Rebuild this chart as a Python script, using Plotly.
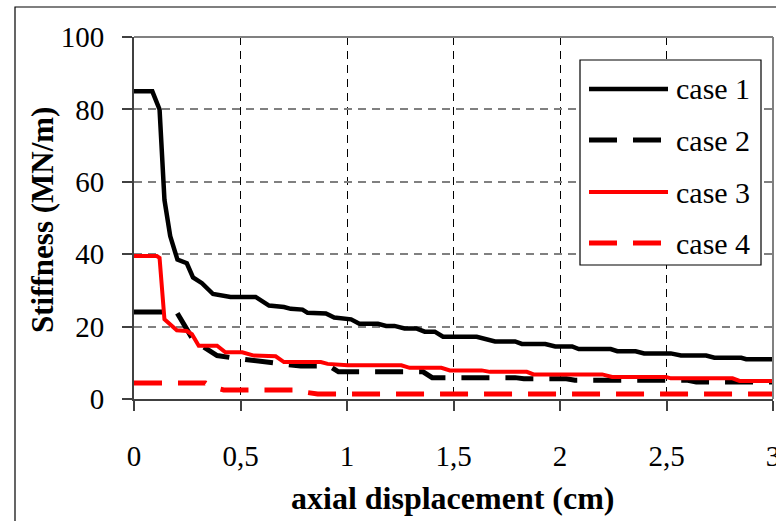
import plotly.graph_objects as go

# ---------------- data ----------------
case1_x = [0, 0.086, 0.12, 0.143, 0.17, 0.204, 0.248, 0.277, 0.319, 0.371, 0.453, 0.571,
           0.634, 0.704, 0.736, 0.791, 0.815, 0.901, 0.94, 1.019, 1.058, 1.145, 1.184,
           1.223, 1.27, 1.325, 1.365, 1.412, 1.451, 1.609, 1.695, 1.789, 1.821, 1.931,
           1.978, 2.057, 2.088, 2.238, 2.269, 2.355, 2.395, 2.52, 2.568, 2.686, 2.725,
           2.851, 2.874, 3.0]
case1_y = [85, 85, 80, 55, 45, 38.5, 37.5, 33.6, 32, 29, 28.2, 28.2,
           25.8, 25.4, 24.9, 24.7, 23.8, 23.6, 22.5, 22.0, 20.8, 20.8, 20.2,
           20.2, 19.5, 19.5, 18.6, 18.6, 17.2, 17.2, 15.9, 15.9, 15.2, 15.2,
           14.5, 14.5, 13.8, 13.8, 13.2, 13.2, 12.6, 12.6, 12.0, 12.0, 11.4,
           11.4, 11.0, 11.0]

case2_x = [0, 0.2, 0.28, 0.358, 0.39, 0.492, 0.571, 0.704, 0.783, 0.917, 0.96, 1.357,
           1.4, 1.789, 1.83, 2.03, 2.07, 2.6, 2.64, 3.0]
case2_y = [24, 24, 16.1, 13.4, 12.0, 11.1, 10.6, 9.7, 9.1, 9.1, 7.5, 7.5,
           5.9, 5.9, 5.6, 5.6, 5.2, 5.2, 4.7, 4.7]

case3_x = [0, 0.107, 0.12, 0.143, 0.201, 0.248, 0.272, 0.304, 0.39, 0.429, 0.508, 0.563,
           0.665, 0.704, 0.877, 0.909, 1.003, 1.255, 1.294, 1.443, 1.483, 1.632, 1.671,
           1.844, 1.876, 2.198, 2.245, 2.497, 2.52, 2.81, 2.843, 3.0]
case3_y = [39.5, 39.5, 39, 22, 19, 18.8, 17.9, 14.7, 14.7, 12.9, 12.9, 12.0,
           11.8, 10.2, 10.2, 9.7, 9.3, 9.3, 8.6, 8.6, 7.9, 7.9, 7.5,
           7.5, 6.8, 6.8, 6.1, 6.1, 5.7, 5.7, 5.0, 5.0]

case4_x = [0, 0.335, 0.36, 0.421, 0.767, 0.8, 0.862, 3.0]
case4_y = [4.4, 4.4, 3.4, 2.5, 2.5, 1.9, 1.4, 1.4]

series_names = ["case 1", "case 2", "case 3", "case 4"]
x_ticks = [0, 0.5, 1, 1.5, 2, 2.5, 3]
y_ticks = [0, 20, 40, 60, 80, 100]

# ---------------- styling ----------------
W, H = 776, 521
L, R, T, B = 134, 3, 37, 122
PW, PH = W - L - R, H - T - B
SERIF = "'Times New Roman', 'Liberation Serif', Tinos, 'DejaVu Serif', 'Noto Serif', serif"
DASH = "28px,16px"
styles = [
    dict(color="black", width=4.5, dash="solid"),
    dict(color="black", width=5, dash=DASH),
    dict(color="#ff0000", width=4, dash="solid"),
    dict(color="#ff0000", width=5, dash=DASH),
]


def px(xp):
    return (xp - L) / PW


def py(yp):
    return (H - B - yp) / PH


fig = go.Figure()
for name, xs, ys, st in zip(series_names,
                            [case1_x, case2_x, case3_x, case4_x],
                            [case1_y, case2_y, case3_y, case4_y], styles):
    fig.add_trace(go.Scatter(x=xs, y=ys, mode="lines", name=name, line=st,
                             showlegend=False))

shapes = []
# plot-area top/right border
shapes.append(dict(type="line", xref="paper", yref="paper", x0=0, x1=1, y0=1, y1=1,
                   line=dict(color="#808080", width=2)))
shapes.append(dict(type="line", xref="paper", yref="paper", x0=1, x1=1, y0=0, y1=1,
                   line=dict(color="#808080", width=2)))
# outer chart frame
shapes.append(dict(type="rect", xref="paper", yref="paper", x0=px(15), x1=px(800),
                   y0=py(560), y1=py(7), line=dict(color="black", width=1.2),
                   layer="below"))
# custom legend
shapes.append(dict(type="rect", xref="paper", yref="paper", x0=px(580), x1=px(761),
                   y0=py(265), y1=py(60), line=dict(color="black", width=1.2),
                   fillcolor="white", layer="above"))
annotations = []
rows = [89, 140, 192, 243]
for name, st, ry in zip(series_names, styles, rows):
    shapes.append(dict(type="line", xref="paper", yref="paper", x0=px(589), x1=px(668),
                       y0=py(ry), y1=py(ry), line=st, layer="above"))
    annotations.append(dict(text=name, xref="paper", yref="paper", x=px(674), y=py(ry),
                            xanchor="left", yanchor="middle", showarrow=False,
                            font=dict(family=SERIF, size=30, color="black")))

# axis titles
annotations.append(dict(text="<b>Stiffness (MN/m)</b>", xref="paper", yref="paper",
                        x=px(42), y=py(220), textangle=-90, showarrow=False,
                        xanchor="center", yanchor="middle",
                        font=dict(family=SERIF, size=31, color="black")))
annotations.append(dict(text="<b>axial displacement (cm)</b>", xref="paper", yref="paper",
                        x=px(453), y=py(498), showarrow=False,
                        xanchor="center", yanchor="middle",
                        font=dict(family=SERIF, size=32, color="black")))

fig.update_layout(
    width=W, height=H,
    margin=dict(l=L, r=R, t=T, b=B, pad=0),
    paper_bgcolor="white", plot_bgcolor="white",
    separators=",.",
    shapes=shapes, annotations=annotations,
    showlegend=False,
    font=dict(family=SERIF, color="black"),
)
fig.update_xaxes(
    range=[0, 3], tickvals=x_ticks, automargin=False,
    showgrid=True, gridcolor="black", gridwidth=1, griddash="8px,6px",
    showline=True, linecolor="#404040", linewidth=2,
    ticks="outside", ticklen=10, tickcolor="#404040", tickwidth=1.5,
    ticklabelstandoff=20, ticklabeloverflow="allow",
    tickfont=dict(family=SERIF, size=29, color="black"),
    zeroline=False,
)
fig.update_yaxes(
    range=[0, 100], tickvals=y_ticks, automargin=False,
    showgrid=True, gridcolor="#808080", gridwidth=1.5, griddash="8px,6px",
    showline=True, linecolor="#404040", linewidth=2,
    ticks="outside", ticklen=10, tickcolor="#404040", tickwidth=1.5,
    ticklabelstandoff=12, tickfont=dict(family=SERIF, size=29, color="black"),
    zeroline=False,
)

fig.write_html("out.html")
